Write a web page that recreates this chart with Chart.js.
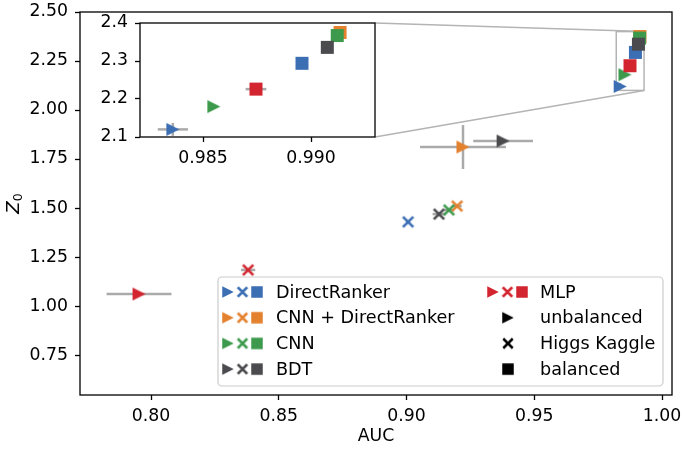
<!DOCTYPE html>
<html><head><meta charset="utf-8">
<script src="https://cdn.jsdelivr.net/npm/chart.js@4.4.1/dist/chart.umd.min.js"></script>
<style>
html,body{margin:0;padding:0;background:#fff;}
#wrap{position:relative;width:685px;height:449px;}
#wrap canvas{position:absolute;left:0;top:0;}
</style></head><body>
<div id="wrap"><canvas id="main" width="685" height="449"></canvas><canvas id="inset" width="685" height="449"></canvas></div>
<script>
// ---------------- data ----------------
const models = ['DirectRanker', 'CNN + DirectRanker', 'CNN', 'BDT', 'MLP'];
const modelColors = ['#3c6eb4', '#e4812e', '#3d9a4c', '#4b4b4f', '#d3252f'];
// unbalanced (triangle)
const unbalancedAUC    = [0.9836, 0.9221, 0.9855, 0.9378, 0.7953];
const unbalancedZ0     = [2.120, 1.811, 2.180, 1.842, 1.061];
const unbalancedAUCErr = [0.0007, 0.0168, 0, 0.0117, 0.0127];
const unbalancedZ0Err  = [0.017, 0.112, 0, 0, 0];
// Higgs Kaggle (cross)
const higgsAUC    = [0.9006, 0.9198, 0.9166, 0.9127, 0.8380];
const higgsZ0     = [1.429, 1.510, 1.490, 1.469, 1.184];
const higgsAUCErr = [0.0008, 0.0018, 0.0018, 0.0025, 0.0028];
const higgsZ0Err  = [0.004, 0.008, 0.008, 0.010, 0.004];
// balanced (square)
const balancedAUC    = [0.98958, 0.99134, 0.99121, 0.99075, 0.98745];
const balancedZ0     = [2.294, 2.375, 2.367, 2.336, 2.226];
const balancedAUCErr = [0.0001, 0.0001, 0.0001, 0.0001, 0.00048];
const balancedZ0Err  = [0, 0, 0, 0, 0];

const legendTypes = ['unbalanced', 'Higgs Kaggle', 'balanced'];
const xTicksMain  = [0.80, 0.85, 0.90, 0.95, 1.00];
const yTicksMain  = [0.75, 1.00, 1.25, 1.50, 1.75, 2.00, 2.25, 2.50];
const xTicksInset = [0.985, 0.990];
const yTicksInset = [2.1, 2.2, 2.3, 2.4];
const mainXRange  = [0.7722, 1.0039];
const mainYRange  = [0.546, 2.50];
const insetXRange = [0.98208, 0.99296];
const insetYRange = [2.1, 2.4];

// ---------------- styling helpers ----------------
const FONT = 'DejaVu Sans';
const FS = 17.3;
const ERR_COLOR = '#aaaaaa';
function markerCanvas(shape, color, size, lw) {
  const s = Math.ceil(size) + 6;
  const c = document.createElement('canvas'); c.width = s; c.height = s;
  const g = c.getContext('2d'); const m = s / 2, h = size / 2;
  g.fillStyle = color; g.strokeStyle = color;
  if (shape === 'tri') {
    g.beginPath(); g.moveTo(m + h, m); g.lineTo(m - h, m - h); g.lineTo(m - h, m + h); g.closePath(); g.fill();
  } else if (shape === 'cross') {
    g.lineWidth = lw; g.beginPath();
    g.moveTo(m - h, m - h); g.lineTo(m + h, m + h); g.moveTo(m - h, m + h); g.lineTo(m + h, m - h); g.stroke();
  } else {
    g.fillRect(m - h, m - h, size, size);
  }
  return c;
}
const markers = modelColors.map(c => ({
  tri: markerCanvas('tri', c, 13), cross: markerCanvas('cross', c, 10.4, 2.6), sq: markerCanvas('sq', c, 13)
}));
const legendMarkers = modelColors.map(c => ({
  tri: markerCanvas('tri', c, 11.5), cross: markerCanvas('cross', c, 9.5, 2.5), sq: markerCanvas('sq', c, 11.5)
}));
const blackMarkers = [markerCanvas('tri', '#000', 11.5), markerCanvas('cross', '#000', 9.5, 2.5), markerCanvas('sq', '#000', 11.5)];

function buildDatasets() {
  return models.map((m, i) => ({
    label: m,
    order: models.length - i,
    data: [
      {x: unbalancedAUC[i], y: unbalancedZ0[i], xe: unbalancedAUCErr[i], ye: unbalancedZ0Err[i]},
      {x: higgsAUC[i], y: higgsZ0[i], xe: higgsAUCErr[i], ye: higgsZ0Err[i]},
      {x: balancedAUC[i], y: balancedZ0[i], xe: balancedAUCErr[i], ye: balancedZ0Err[i]}
    ],
    pointStyle: [markers[i].tri, markers[i].cross, markers[i].sq],
    pointRadius: 7, pointHoverRadius: 7, showLine: false
  }));
}

const errorBarPlugin = {
  id: 'errbars',
  beforeDatasetsDraw(chart) {
    const {ctx, chartArea: a, scales: {x, y}} = chart;
    ctx.save(); ctx.beginPath(); ctx.rect(a.left, a.top, a.right - a.left, a.bottom - a.top); ctx.clip();
    ctx.strokeStyle = ERR_COLOR; ctx.lineWidth = 2.5;
    chart.data.datasets.forEach(ds => ds.data.forEach(p => {
      const px = x.getPixelForValue(p.x), py = y.getPixelForValue(p.y);
      if (p.xe > 0) { ctx.beginPath(); ctx.moveTo(x.getPixelForValue(p.x - p.xe), py); ctx.lineTo(x.getPixelForValue(p.x + p.xe), py); ctx.stroke(); }
      if (p.ye > 0) { ctx.beginPath(); ctx.moveTo(px, y.getPixelForValue(p.y - p.ye)); ctx.lineTo(px, y.getPixelForValue(p.y + p.ye)); ctx.stroke(); }
    }));
    ctx.restore();
  }
};
const framePlugin = {
  id: 'frame',
  beforeDraw(chart, args, opts) {
    if (!opts.fill) return;
    const {ctx, chartArea: a} = chart;
    ctx.save(); ctx.fillStyle = '#fff'; ctx.fillRect(a.left, a.top, a.right - a.left, a.bottom - a.top); ctx.restore();
  },
  afterDatasetsDraw(chart) {
    const {ctx, chartArea: a} = chart;
    ctx.save(); ctx.strokeStyle = '#000'; ctx.lineWidth = 1.3;
    ctx.strokeRect(a.left, a.top, a.right - a.left, a.bottom - a.top); ctx.restore();
  }
};

function scaleOpts(range, ticksArr, decimals, fitFn, pad) {
  return {
    type: 'linear', min: range[0], max: range[1],
    afterBuildTicks: s => { s.ticks = ticksArr.map(v => ({value: v})); },
    afterFit: s => { fitFn(s); s.paddingLeft = 0; s.paddingRight = 0; s.paddingTop = 0; s.paddingBottom = 0; },
    grid: {drawOnChartArea: false, drawTicks: true, tickLength: 5, tickColor: '#000', tickWidth: 1.3},
    border: {display: false},
    ticks: {color: '#000', font: {family: FONT, size: FS}, padding: pad, maxRotation: 0, autoSkip: false,
            callback: v => Number(v).toFixed(decimals)}
  };
}

// ---------------- inset chart ----------------
const insetChart = new Chart(document.getElementById('inset'), {
  type: 'scatter',
  data: {datasets: buildDatasets()},
  options: {
    responsive: false, animation: false, events: [],
    layout: {padding: {left: 0, top: 23, right: 310, bottom: 282}},
    scales: {
      x: scaleOpts(insetXRange, xTicksInset, 3, s => { s.height = 30; }, 6),
      y: scaleOpts(insetYRange, yTicksInset, 1, s => { s.width = 140; }, 7)
    },
    plugins: {legend: {display: false}, tooltip: {enabled: false}, frame: {fill: true}}
  },
  plugins: [framePlugin, errorBarPlugin]
});

// ---------------- main chart ----------------
const zoomPlugin = {
  id: 'zoomMark',
  beforeDatasetsDraw(chart) {
    const {ctx, scales: {x, y}} = chart;
    const l = x.getPixelForValue(insetXRange[0]), r = x.getPixelForValue(insetXRange[1]);
    const t = y.getPixelForValue(insetYRange[1]), b = y.getPixelForValue(insetYRange[0]);
    const ia = insetChart.chartArea;
    ctx.save(); ctx.strokeStyle = '#b4b4b4'; ctx.lineWidth = 1.5;
    ctx.strokeRect(l, t, r - l, b - t);
    ctx.beginPath(); ctx.moveTo(ia.right, ia.top); ctx.lineTo(r, t);
    ctx.moveTo(ia.right, ia.bottom); ctx.lineTo(r, b); ctx.stroke();
    ctx.restore();
  }
};
const titlesPlugin = {
  id: 'titles',
  afterDraw(chart) {
    const {ctx, chartArea: a} = chart;
    ctx.save(); ctx.fillStyle = '#000';
    ctx.font = `${FS}px ${FONT}`; ctx.textAlign = 'center'; ctx.textBaseline = 'middle';
    ctx.fillText('AUC', (a.left + a.right) / 2, 437);
    // y title Z_0
    ctx.translate(19, (a.top + a.bottom) / 2); ctx.rotate(-Math.PI / 2);
    ctx.textAlign = 'left'; ctx.textBaseline = 'alphabetic';
    ctx.font = `italic 18px ${FONT}`; const wZ = ctx.measureText('Z').width;
    ctx.font = `12.5px ${FONT}`; const w0 = ctx.measureText('0').width;
    const x0 = -(wZ + w0) / 2;
    ctx.font = `italic 18px ${FONT}`; ctx.fillText('Z', x0, 0);
    ctx.font = `12.5px ${FONT}`; ctx.fillText('0', x0 + wZ, 3);
    ctx.restore();
  }
};
const legendPlugin = {
  id: 'customLegend',
  afterDraw(chart) {
    const ctx = chart.ctx;
    const bx = 218, by = 277, bw = 445, bh = 109, rr = 4;
    ctx.save();
    ctx.fillStyle = 'rgba(255,255,255,0.85)'; ctx.strokeStyle = '#cccccc'; ctx.lineWidth = 1.2;
    ctx.beginPath(); ctx.roundRect(bx, by, bw, bh, rr); ctx.fill(); ctx.stroke();
    ctx.font = `${FS + 0.3}px ${FONT}`; ctx.fillStyle = '#000'; ctx.textAlign = 'left'; ctx.textBaseline = 'middle';
    const rowY = i => 292 + i * 25.7;
    const put = (img, x, y) => ctx.drawImage(img, x - img.width / 2, y - img.height / 2);
    const entries = [];
    models.forEach((m, i) => entries.push({label: m, imgs: [legendMarkers[i].tri, legendMarkers[i].cross, legendMarkers[i].sq]}));
    legendTypes.forEach((t, i) => entries.push({label: t, imgs: [blackMarkers[i]], single: true}));
    entries.forEach((e, k) => {
      const col = k < 4 ? 0 : 1, row = k < 4 ? k : k - 4;
      const cx = col === 0 ? 228 : 493, tx = col === 0 ? 276 : 540, y = rowY(row);
      if (e.single) put(e.imgs[0], cx + 15, y);
      else e.imgs.forEach((img, j) => put(img, cx + j * 14.5, y));
      ctx.fillText(e.label, tx, y + 1);
    });
    ctx.restore();
  }
};

const mainChart = new Chart(document.getElementById('main'), {
  type: 'scatter',
  data: {datasets: buildDatasets()},
  options: {
    responsive: false, animation: false, events: [],
    layout: {padding: {left: 0, top: 12, right: 13, bottom: 0}},
    scales: {
      x: scaleOpts(mainXRange, xTicksMain, 2, s => { s.height = 54; }, 6),
      y: scaleOpts(mainYRange, yTicksMain, 2, s => { s.width = 80; }, 7)
    },
    plugins: {legend: {display: false}, tooltip: {enabled: false}, frame: {fill: false}}
  },
  plugins: [{id: 'bg', beforeDraw(c) { c.ctx.save(); c.ctx.fillStyle = '#fff'; c.ctx.fillRect(0, 0, c.width, c.height); c.ctx.restore(); }},
            framePlugin, zoomPlugin, errorBarPlugin, titlesPlugin, legendPlugin]
});
</script>
</body></html>
